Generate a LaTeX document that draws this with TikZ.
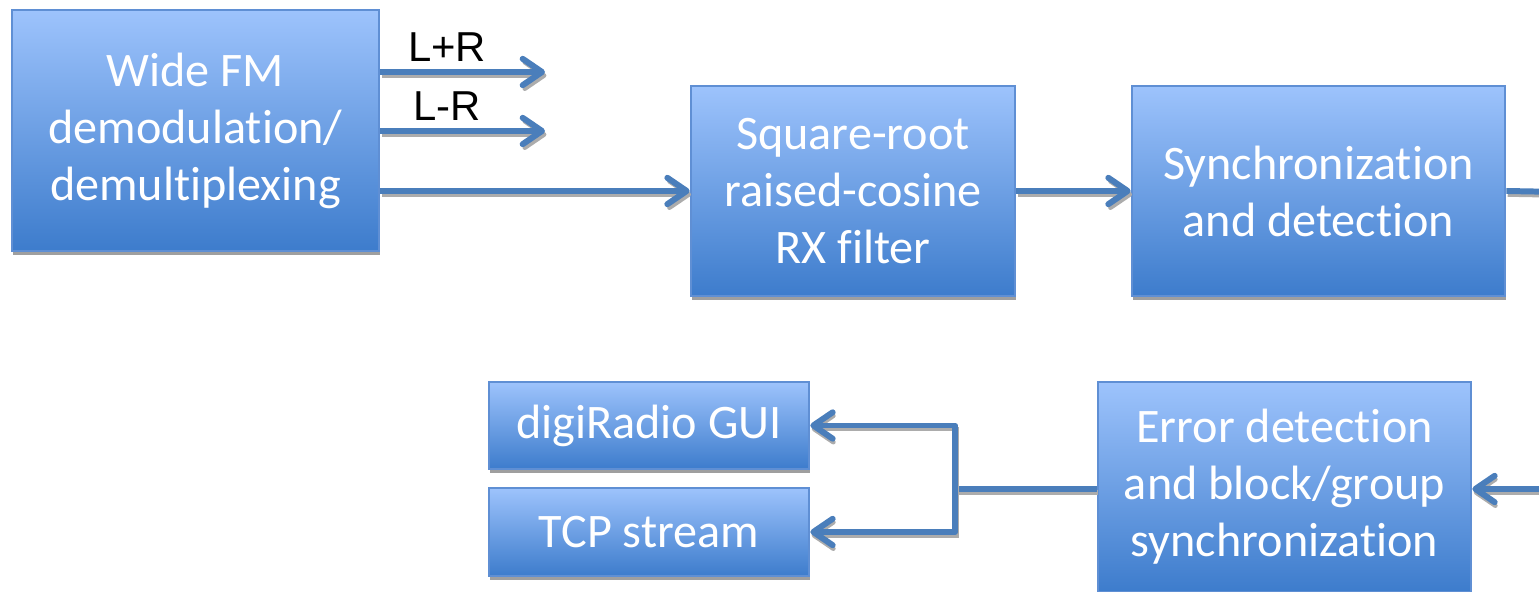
\documentclass[tikz,border=0pt]{standalone}
\usepackage{fontspec}
\usepackage{tikz}
\usetikzlibrary{arrows.meta,shadows}
\newfontfamily\blkfont{Carlito}[Ligatures=NoCommon]
\newfontfamily\lblfont{Liberation Sans}

\definecolor{blktop}{RGB}{157,195,252}
\definecolor{blkbot}{RGB}{61,124,204}
\definecolor{blkline}{RGB}{95,143,212}
\definecolor{connblue}{RGB}{74,126,187}

\tikzset{
  blk/.style={draw=blkline, line width=0.7pt, top color=blktop, bottom color=blkbot,
    text=white, align=center, inner sep=0pt,
    font={\blkfont\fontsize{13.7pt}{16.2pt}\selectfont},
    drop shadow={shadow xshift=0.3pt, shadow yshift=-1.1pt, fill=gray!75, opacity=1}},
  wire/.style={draw=connblue, line width=1.7pt, line join=round,
    preaction={draw=gray!65, line width=1.3pt, transform canvas={shift={(0.4pt,-1pt)}}}},
  conn/.style={wire, -{Straight Barb[length=5.5pt,width=7.5pt,line cap=round,line join=round]}},
  lbl/.style={font={\lblfont\fontsize{11.9pt}{14pt}\selectfont}, inner sep=0pt, anchor=base}
}

\begin{document}
\begin{tikzpicture}[x=0.01cm, y=-0.01cm]
\useasboundingbox (0,0) rectangle (1539,592);

% Top row of blocks
\node[blk, minimum width=3.67cm, minimum height=2.41cm] (fm) at (195.5,130.5)
  {Wide FM\\demodulation/\\demultiplexing};
\node[blk, minimum width=3.24cm, minimum height=2.10cm] (srrc) at (853,191)
  {Square-root\\raised-cosine\\RX filter};
\node[blk, minimum width=3.73cm, minimum height=2.10cm] (sync) at (1318.5,191)
  {Synchronization\\and detection};

% Bottom row of blocks
\node[blk, minimum width=3.20cm, minimum height=0.87cm] (gui) at (649,425.5) {digiRadio GUI};
\node[blk, minimum width=3.20cm, minimum height=0.88cm] (tcp) at (649,532) {TCP stream};
\node[blk, minimum width=3.73cm, minimum height=2.10cm] (err) at (1284.5,487)
  {Error detection\\and block/group\\synchronization};

% Stereo outputs
\coordinate (lpr) at (545,72);
\coordinate (lmr) at (545,131);
\node[lbl] (lprtxt) at (447,62) {L+R};
\node[lbl] (lmrtxt) at (447,121) {L-R};
\draw[conn] (fm.east |- lpr) -- (lpr);
\draw[conn] (fm.east |- lmr) -- (lmr);

% Data path
\coordinate (outr) at (1560,192);
\coordinate (inr) at (1560,489);
\coordinate (split) at (955,489);
\draw[conn] (fm.east |- srrc.west) -- (srrc.west);
\draw[conn] (srrc.east) -- (sync.west);
\draw[wire] (sync.east) -- (outr);
\draw[conn] (inr) -- (err.east |- inr);
\draw[wire] (err.west |- split) -- (split);
\draw[conn] (split) |- (gui.east);
\draw[conn] (split) |- (tcp.east);

\end{tikzpicture}
\end{document}
